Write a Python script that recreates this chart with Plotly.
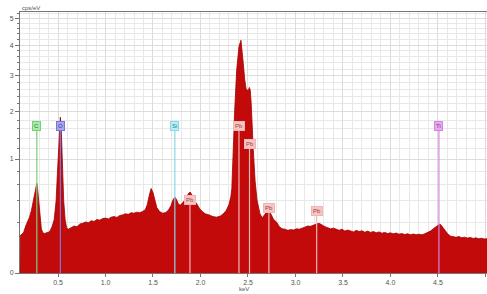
import math
import plotly.graph_objects as go

# ---- spectrum data (keV, cps/eV) ----
kev = [0.100, 0.104, 0.12, 0.14, 0.16, 0.18, 0.20, 0.22, 0.235, 0.25, 0.26, 0.27, 0.277, 0.285, 0.295, 0.31,
       0.325, 0.34, 0.36, 0.38, 0.40, 0.42, 0.44, 0.46, 0.48, 0.495, 0.51, 0.525, 0.535, 0.545, 0.56, 0.575,
       0.59, 0.61, 0.64, 0.67, 0.70, 0.73, 0.76, 0.79, 0.82, 0.85, 0.88, 0.91, 0.94, 0.97, 1.00, 1.03, 1.06,
       1.09, 1.12, 1.15, 1.18, 1.21, 1.24, 1.27, 1.30, 1.33, 1.36, 1.39, 1.42, 1.44, 1.46, 1.48, 1.50, 1.52,
       1.54, 1.57, 1.60, 1.63, 1.66, 1.69, 1.71, 1.73, 1.75, 1.77, 1.79, 1.82, 1.85, 1.87, 1.89, 1.91, 1.93,
       1.96, 1.99, 2.02, 2.05, 2.09, 2.13, 2.17, 2.21, 2.24, 2.27, 2.30, 2.32, 2.33, 2.342, 2.36, 2.381, 2.405,
       2.426, 2.44, 2.45, 2.465, 2.479, 2.50, 2.515, 2.525, 2.534, 2.556, 2.575, 2.595, 2.615, 2.626, 2.65,
       2.68, 2.70, 2.72, 2.74, 2.77, 2.80, 2.83, 2.86, 2.89, 2.92, 2.95, 2.98, 3.01, 3.04, 3.07, 3.10, 3.13,
       3.16, 3.19, 3.22, 3.25, 3.28, 3.31, 3.34, 3.37, 3.40, 3.43, 3.46, 3.49, 3.52, 3.55, 3.58, 3.61, 3.64,
       3.67, 3.70, 3.73, 3.76, 3.79, 3.82, 3.85, 3.88, 3.91, 3.94, 3.97, 4.00, 4.03, 4.06, 4.09, 4.12, 4.15,
       4.18, 4.21, 4.24, 4.27, 4.30, 4.33, 4.36, 4.39, 4.42, 4.45, 4.48, 4.50, 4.52, 4.54, 4.57, 4.60, 4.63,
       4.66, 4.69, 4.72, 4.75, 4.78, 4.81, 4.84, 4.87, 4.90, 4.93, 4.96, 4.99, 5.02, 5.05]
cps = [0.0, 0.11, 0.115, 0.13, 0.17, 0.20, 0.24, 0.30, 0.38, 0.45, 0.50, 0.58, 0.62, 0.55, 0.42, 0.24,
       0.15, 0.125, 0.12, 0.125, 0.128, 0.14, 0.17, 0.22, 0.40, 0.80, 1.40, 1.87, 1.55, 0.95, 0.40, 0.22,
       0.16, 0.148, 0.158, 0.17, 0.165, 0.185, 0.19, 0.20, 0.195, 0.21, 0.205, 0.22, 0.215, 0.228, 0.232, 0.225,
       0.24, 0.245, 0.238, 0.255, 0.26, 0.27, 0.265, 0.28, 0.275, 0.285, 0.28, 0.29, 0.31, 0.36, 0.46, 0.55,
       0.50, 0.40, 0.33, 0.29, 0.275, 0.28, 0.30, 0.35, 0.41, 0.445, 0.41, 0.36, 0.355, 0.39, 0.43, 0.48,
       0.505, 0.47, 0.41, 0.37, 0.32, 0.29, 0.27, 0.26, 0.245, 0.24, 0.25, 0.27, 0.30, 0.36, 0.45, 0.55,
       1.16, 2.04, 3.17, 3.95, 4.17, 3.8, 3.39, 2.9, 2.62, 2.55, 2.65, 2.55, 2.2, 1.16, 0.65, 0.41, 0.30,
       0.27, 0.235, 0.27, 0.29, 0.296, 0.27, 0.22, 0.20, 0.165, 0.15, 0.148, 0.14, 0.145, 0.142, 0.15, 0.148,
       0.155, 0.16, 0.17, 0.168, 0.178, 0.185, 0.19, 0.175, 0.165, 0.158, 0.15, 0.155, 0.145, 0.14, 0.148,
       0.135, 0.142, 0.138, 0.13, 0.14, 0.132, 0.137, 0.128, 0.135, 0.127, 0.132, 0.125, 0.13, 0.122, 0.127,
       0.12, 0.124, 0.118, 0.123, 0.116, 0.12, 0.114, 0.119, 0.112, 0.117, 0.113, 0.116, 0.112, 0.118, 0.125,
       0.135, 0.15, 0.165, 0.18, 0.185, 0.17, 0.14, 0.12, 0.105, 0.1, 0.098, 0.102, 0.096, 0.099, 0.094,
       0.097, 0.092, 0.095, 0.09, 0.093, 0.089, 0.091, 0.088]

# ---- element markers ----
el_names = ["C", "O", "Si", "Pb", "Pb", "Pb", "Pb", "Pb", "Ti"]
el_kev = [0.277, 0.525, 1.73, 1.889, 2.405, 2.516, 2.72, 3.223, 4.51]
el_label_cps = [1.66, 1.66, 1.66, 0.41, 1.66, 1.28, 0.325, 0.296, 1.66]
el_line_col = ["#78d078", "#7878d8", "#8ad8e6", "#f2b4b4", "#f2b4b4", "#f2b4b4", "#f2b4b4", "#f2b4b4", "#d884dc"]
el_box_col = ["#a8eaa8", "#a6a6f0", "#b4f0f8", "#f6c6c6", "#f6c6c6", "#f6c6c6", "#f6c6c6", "#f6c6c6", "#e8aaee"]
el_txt_col = ["#2f7a2f", "#3a3a9a", "#2d7f8c", "#a03c3c", "#a03c3c", "#a03c3c", "#a03c3c", "#a03c3c", "#8a2c90"]

y_ticks = [0, 1, 2, 3, 4, 5]
x_ticks = [0.5, 1.0, 1.5, 2.0, 2.5, 3.0, 3.5, 4.0, 4.5, 5.0]
x_tick_text = ["0.5", "1.0", "1.5", "2.0", "2.5", "3.0", "3.5", "4.0", "4.5", "5.0"]

sq = [math.sqrt(v) for v in cps]

fig = go.Figure()
fig.add_trace(go.Scatter(x=kev, y=sq, mode="lines", fill="tozeroy",
                         fillcolor="#c20a0a", line=dict(color="#a30000", width=0.8),
                         hoverinfo="skip"))

for n, e, h, lc, bc, tc in zip(el_names, el_kev, el_label_cps, el_line_col, el_box_col, el_txt_col):
    fig.add_shape(type="line", x0=e, x1=e, y0=0, y1=math.sqrt(h), xref="x", yref="y",
                  line=dict(color=lc, width=1.2), layer="above")
    fig.add_annotation(x=e, y=math.sqrt(h), text=n, showarrow=False, xref="x", yref="y",
                       bgcolor=bc, bordercolor=lc, borderwidth=1, borderpad=1,
                       font=dict(size=6, color=tc, family="Liberation Sans"))

minor_y = [math.sqrt(v / 5) for v in range(0, 27)]

fig.update_layout(
    width=487, height=294,
    margin=dict(l=20, r=0, t=12, b=21, autoexpand=False),
    paper_bgcolor="white", plot_bgcolor="white",
    showlegend=False,
    font=dict(family="Liberation Sans", size=7, color="#555555"),
    xaxis=dict(range=[0.1, 5.016], tickmode="array", tickvals=x_ticks, ticktext=x_tick_text,
               automargin=False,
               showgrid=True, gridcolor="#dcdcdc", gridwidth=1,
               minor=dict(dtick=0.1, tick0=0, showgrid=True, gridcolor="#e8e8e8", gridwidth=1),
               showline=True, linecolor="#777777", linewidth=1, mirror=True,
               ticks="outside", ticklen=3, tickcolor="#777777", zeroline=False,
               tickfont=dict(size=7, color="#555555")),
    yaxis=dict(range=[0, 2.29], tickmode="array", tickvals=[math.sqrt(v) for v in y_ticks],
               ticktext=[str(v) for v in y_ticks], automargin=False,
               showgrid=True, gridcolor="#dcdcdc", gridwidth=1,
               minor=dict(tickmode="array", tickvals=minor_y, showgrid=True, gridcolor="#e8e8e8",
                          ticks="outside", ticklen=2, tickcolor="#777777"),
               showline=True, linecolor="#777777", linewidth=1, mirror=True,
               ticks="outside", ticklen=4, tickcolor="#777777", zeroline=False,
               tickfont=dict(size=7, color="#555555")),
)

fig.add_annotation(x=0, y=1, xref="paper", yref="paper", xanchor="left", yanchor="bottom",
                   text="cps/eV", showarrow=False, yshift=-1,
                   font=dict(size=6, color="#555555", family="Liberation Sans"))
fig.add_annotation(x=0.48, y=0, xref="paper", yref="paper", xanchor="center", yanchor="top",
                   text="keV", showarrow=False, yshift=-11,
                   font=dict(size=6, color="#555555", family="Liberation Sans"))

fig.write_html("out.html", config={"displayModeBar": False},
               post_script="document.body.style.margin='0';document.body.style.overflow='hidden';")
